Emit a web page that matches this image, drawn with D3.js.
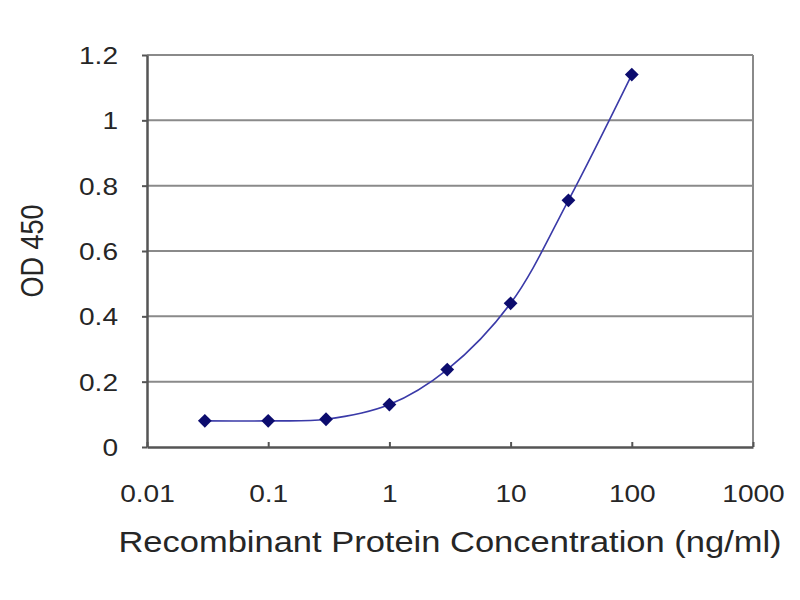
<!DOCTYPE html>
<html>
<head>
<meta charset="utf-8">
<title>OD 450 standard curve</title>
<script src="https://cdn.jsdelivr.net/npm/d3@7/dist/d3.min.js"></script>
<style>
	body, html { margin: 0; padding: 0; background: #fff; }
	svg text { font-family: "Liberation Sans", Arial, sans-serif; fill: #262626; }
</style>
</head>
<body>
<svg id="chart" width="800" height="600"></svg>
<script>
	// concentrations (ng/ml) and measured OD 450
	var concentrations = [0.03, 0.1, 0.3, 1, 3, 10, 30, 100];
	var odValues = [0.08, 0.08, 0.085, 0.13, 0.237, 0.44, 0.755, 1.14];

	var xTicks = [0.01, 0.1, 1, 10, 100, 1000];
	var xTickLabels = ["0.01", "0.1", "1", "10", "100", "1000"];
	var yTicks = [0, 0.2, 0.4, 0.6, 0.8, 1, 1.2];
	var yTickLabels = ["0", "0.2", "0.4", "0.6", "0.8", "1", "1.2"];

	var W = 800, H = 600,
		margin = {top: 55, right: 47, bottom: 153, left: 147},
		w = W - margin.left - margin.right,
		h = H - margin.top - margin.bottom,
		sx = 1.17; // the picture is stretched sideways

	var svg = d3.select("#chart");
	var g = svg.append("g").attr("transform", "translate(" + margin.left + "," + margin.top + ")");

	var x = d3.scaleLog().domain([0.01, 1000]).range([0, w]);
	var y = d3.scaleLinear().domain([0, 1.2]).range([h, 0]);

	// gridlines
	g.selectAll(".grid")
		.data(yTicks.slice(1))
	  .enter().append("line")
		.attr("x1", 0).attr("x2", w)
		.attr("y1", function(d) { return y(d); })
		.attr("y2", function(d) { return y(d); })
		.attr("stroke", "#8a8a8a")
		.attr("stroke-width", 2);

	// right border
	g.append("line")
		.attr("x1", w).attr("x2", w).attr("y1", 0).attr("y2", h)
		.attr("stroke", "#8a8a8a").attr("stroke-width", 2);

	// axes
	var yAxis = d3.axisLeft(y)
		.tickValues(yTicks)
		.tickFormat(function(d, i) { return yTickLabels[i]; })
		.tickSizeInner(5).tickSizeOuter(0);

	var xAxis = d3.axisBottom(x)
		.tickValues(xTicks)
		.tickFormat(function(d, i) { return xTickLabels[i]; })
		.tickSizeInner(-5).tickSizeOuter(0);

	var gy = g.append("g").call(yAxis);
	var gx = g.append("g").attr("transform", "translate(0," + h + ")").call(xAxis);

	[gx, gy].forEach(function(ax) {
		ax.select(".domain").attr("stroke", "#555").attr("stroke-width", 2.5);
		ax.selectAll(".tick line").attr("stroke", "#555").attr("stroke-width", 2);
		ax.selectAll(".tick text").attr("fill", "#262626").style("font-size", "24px");
	});

	gy.selectAll(".tick text")
		.attr("x", 0)
		.attr("dy", "0.36em")
		.attr("transform", "translate(-29,0) scale(" + sx + ",1)");

	gx.selectAll(".tick text")
		.attr("y", 0)
		.attr("dy", 0)
		.attr("transform", "translate(0,55) scale(" + sx + ",1)");

	// curve
	var pts = concentrations.map(function(c, i) { return [c, odValues[i]]; });

	var line = d3.line()
		.x(function(d) { return x(d[0]); })
		.y(function(d) { return y(d[1]); })
		.curve(d3.curveCatmullRom.alpha(0.5));

	g.append("path")
		.datum(pts)
		.attr("d", line)
		.attr("fill", "none")
		.attr("stroke", "#3a3aa8")
		.attr("stroke-width", 1.6);

	g.selectAll(".pt")
		.data(pts)
	  .enter().append("path")
		.attr("class", "pt")
		.attr("d", d3.symbol().type(d3.symbolSquare).size(95))
		.attr("transform", function(d) {
			return "translate(" + x(d[0]) + "," + y(d[1]) + ") rotate(45)";
		})
		.attr("fill", "#0c0c6e");

	// axis titles
	svg.append("text")
		.attr("text-anchor", "middle")
		.attr("transform", "translate(" + (margin.left + w / 2) + ",552) scale(1.15,1)")
		.style("font-size", "30px")
		.text("Recombinant Protein Concentration (ng/ml)");

	svg.append("text")
		.attr("text-anchor", "middle")
		.attr("transform", "translate(43," + (margin.top + h / 2) + ") scale(" + sx + ",1) rotate(-90)")
		.style("font-size", "27px")
		.text("OD 450");
</script>
</body>
</html>
